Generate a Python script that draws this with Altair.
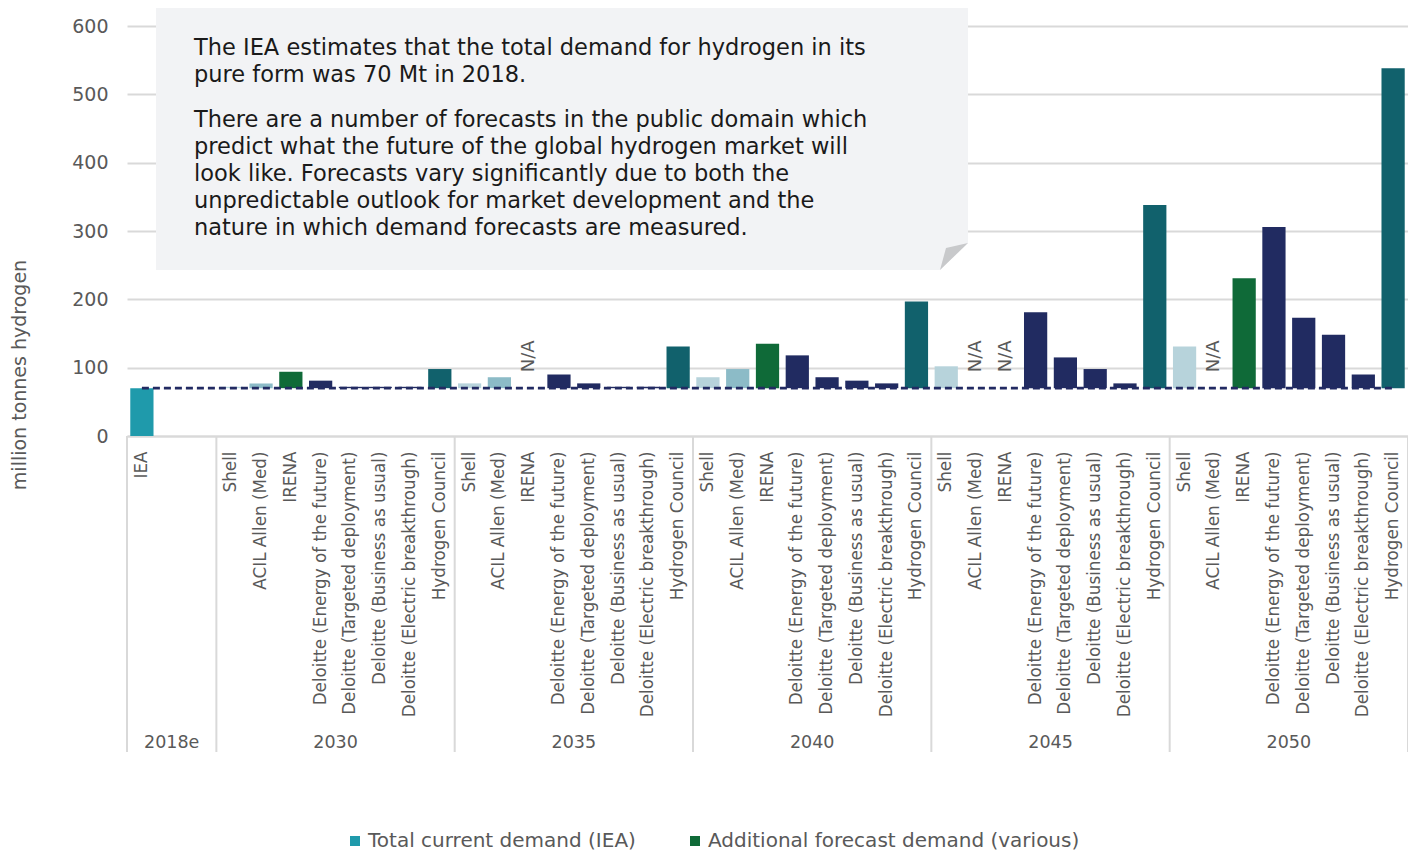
import altair as alt
import pandas as pd

# ---------------- data (million tonnes of hydrogen, total demand) ----------------
years = ["2030", "2035", "2040", "2045", "2050"]
sources = [
    "Shell",
    "ACIL Allen (Med)",
    "IRENA",
    "Deloitte (Energy of the future)",
    "Deloitte (Targeted deployment)",
    "Deloitte (Business as usual)",
    "Deloitte (Electric breakthrough)",
    "Hydrogen Council",
]
iea_2018 = 70  # IEA estimate of current demand, 2018e

shell = [72, 77, 86, 102, 131]
acil_allen = [77, 86, 98, None, None]
irena = [94, None, 135, None, 231]
deloitte_energy_future = [81, 90, 118, 181, 306]
deloitte_targeted = [72, 77, 86, 115, 173]
deloitte_bau = [72, 72, 81, 98, 148]
deloitte_electric = [72, 72, 77, 77, 90]
hydrogen_council = [98, 131, 197, 338, 538]

legend_labels = ["Total current demand (IEA)", "Additional forecast demand (various)"]
y_ticks = [0, 100, 200, 300, 400, 500, 600]
y_title = "million tonnes hydrogen"
note_p1 = [
    "The IEA estimates that the total demand for hydrogen in its",
    "pure form was 70 Mt in 2018.",
]
note_p2 = [
    "There are a number of forecasts in the public domain which",
    "predict what the future of the global hydrogen market will",
    "look like. Forecasts vary significantly due to both the",
    "unpredictable outlook for market development and the",
    "nature in which demand forecasts are measured.",
]

# ---------------- tables ----------------
series = [shell, acil_allen, irena, deloitte_energy_future, deloitte_targeted,
          deloitte_bau, deloitte_electric, hydrogen_council]
keys = ["2018e|IEA", "2018e| ", "2018e|  "] + [f"{y}|{s}" for y in years for s in sources]

rows = [{"key": "2018e|IEA", "source": "IEA", "base": 0, "total": iea_2018}]
for i, yr in enumerate(years):
    for s, vals in zip(sources, series):
        rows.append({"key": f"{yr}|{s}", "source": s, "base": iea_2018, "total": vals[i]})
df = pd.DataFrame(rows)
bars_df = df[df["total"].notna()].copy()
na_df = df[df["total"].isna()].copy()
line_df = pd.DataFrame({"key": keys, "base": [iea_2018] * len(keys)})
first_df = pd.DataFrame({"key": [keys[0]] + [f"{y}|{sources[0]}" for y in years]})
last_df = pd.DataFrame({"key": [keys[-1]]})
mid_df = pd.DataFrame({"key": [f"{y}|{sources[4]}" for y in years], "label": years})
mid2018_df = pd.DataFrame({"key": [keys[1]], "label": ["2018e"]})
legend_df = pd.DataFrame({"series": legend_labels})
one = alt.Data(values=[{}])

# ---------------- styling ----------------
GREY = "#595959"
LINE = "#d9d9d9"
color_domain = ["IEA"] + sources
color_range = ["#1f9aab", "#b7d3db", "#8cbbc7", "#0f6a38",
               "#212b61", "#212b61", "#212b61", "#212b61", "#11616c"]

W, H = 1281, 410
PI = 0.22
STEP = W / len(keys)
HALF_GAP = STEP * PI / 2  # distance from band edge to slot edge

xscale = alt.Scale(domain=keys, paddingInner=PI, paddingOuter=PI / 2)
xaxis = alt.Axis(
    title=None, labelExpr="split(datum.value, '|')[1]", labelAngle=270,
    labelAlign="right", labelBaseline="middle", labelPadding=15,
    labelFontSize=16.8, labelColor=GREY, labelLimit=600, labelOverlap=False,
    ticks=False, domainColor=LINE, domainWidth=2, grid=False,
)
yscale = alt.Scale(domain=[0, 600], nice=False)
yaxis = alt.Axis(
    title=None, values=y_ticks, grid=True, gridColor=LINE, gridWidth=2,
    domain=False, ticks=False, labelFontSize=19, labelColor=GREY, labelPadding=19,
)


def X(bp=0.5):
    return alt.X("key:N", scale=xscale, axis=xaxis, bandPosition=bp)


def Y(field="base:Q"):
    return alt.Y(field, scale=yscale, axis=yaxis)


# ---------------- layers ----------------
box = alt.Chart(one).mark_rect(color="#f2f3f5").encode(
    x=alt.value(29), x2=alt.value(841), y=alt.value(-18), y2=alt.value(244)
)
corner = alt.Chart(one).mark_point(
    shape="M 1 -0.964 L 1 0.964 L -1 0.964 Z", filled=True, size=784,
    opacity=1, color="white", strokeWidth=0,
).encode(x=alt.value(827), y=alt.value(230.5))
fold = alt.Chart(one).mark_point(
    shape="M -1 0.964 L -0.571 -0.607 L 1 -0.964 Z", filled=True, size=784,
    opacity=1, color="#c8c9cb", strokeWidth=0,
).encode(x=alt.value(827), y=alt.value(230.5))

note1 = alt.Chart(one).mark_text(
    text=note_p1, align="left", baseline="alphabetic", fontSize=22.5,
    lineHeight=27, color="#1a1a1a",
).encode(x=alt.value(67), y=alt.value(29))
note2 = alt.Chart(one).mark_text(
    text=note_p2, align="left", baseline="alphabetic", fontSize=22.5,
    lineHeight=27, color="#1a1a1a",
).encode(x=alt.value(67), y=alt.value(101))

bars = alt.Chart(bars_df).mark_bar().encode(
    x=X(), y=Y("base:Q"), y2="total:Q",
    color=alt.Color("source:N", scale=alt.Scale(domain=color_domain, range=color_range), legend=None),
)
dash = alt.Chart(line_df).mark_line(
    color="#222a62", strokeWidth=2.8, strokeDash=[7, 4]
).encode(x=X(), y=Y("base:Q"))

na_text = alt.Chart(na_df).mark_text(
    text="N/A", angle=270, align="left", baseline="middle", dx=16,
    fontSize=18, color=GREY,
).encode(x=X(), y=Y("base:Q"))

sep_left = alt.Chart(first_df).mark_rule(color=LINE, strokeWidth=2, xOffset=-HALF_GAP).encode(
    x=X(0), y=alt.value(H), y2=alt.value(726)
)
sep_right = alt.Chart(last_df).mark_rule(color=LINE, strokeWidth=2, xOffset=HALF_GAP).encode(
    x=X(1), y=alt.value(H), y2=alt.value(726)
)
grp = alt.Chart(mid_df).mark_text(fontSize=17.5, color=GREY, baseline="middle", xOffset=-HALF_GAP).encode(
    x=X(0), y=alt.value(717), text="label:N"
)
grp2018 = alt.Chart(mid2018_df).mark_text(fontSize=17.5, color=GREY, baseline="middle").encode(
    x=X(0.5), y=alt.value(717), text="label:N"
)

ytitle = alt.Chart(one).mark_text(
    text=y_title, angle=270, fontSize=19, color=GREY, baseline="middle"
).encode(x=alt.value(-107), y=alt.value(349))

legend_layer = alt.Chart(legend_df).mark_square(opacity=0).encode(
    color=alt.Color(
        "series:N",
        scale=alt.Scale(domain=legend_labels, range=["#1f9aab", "#0f6a38"]),
        legend=alt.Legend(
            orient="none", legendX=218, legendY=805, direction="horizontal",
            title=None, symbolType="square", symbolSize=100, symbolOpacity=1,
            symbolStrokeWidth=0, labelFontSize=20, labelColor=GREY,
            labelLimit=600, columnPadding=49, labelOffset=3, padding=0,
        ),
    )
)

chart = alt.layer(
    box, corner, fold, note1, note2, bars, dash, na_text,
    sep_left, sep_right, grp, grp2018, ytitle, legend_layer,
).resolve_scale(color="independent").properties(
    width=W, height=H,
    autosize=alt.AutoSizeParams(type="none"),
    padding={"left": 119, "top": 18, "right": 0, "bottom": 416},
).configure(font="DejaVu Sans").configure_view(stroke=None)

chart.save("out.html", embed_options={"renderer": "svg", "actions": False})
